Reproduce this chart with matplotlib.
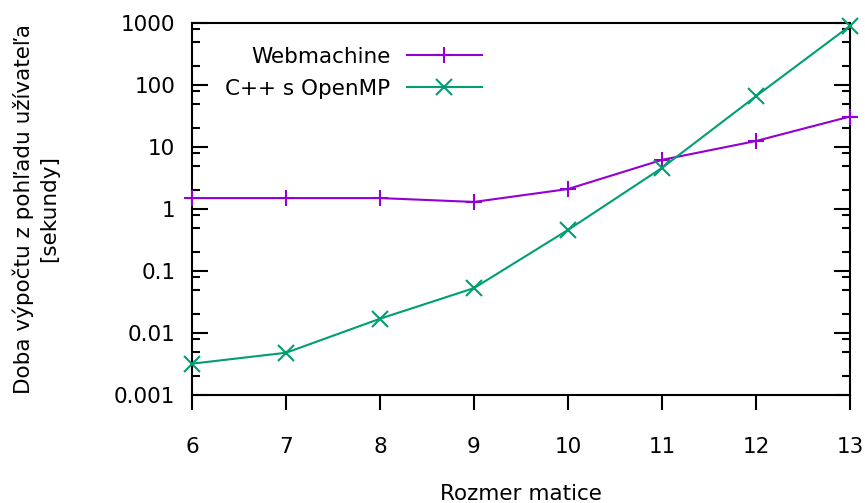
import matplotlib
matplotlib.use("Agg")
import matplotlib.pyplot as plt
from matplotlib.ticker import LogLocator, NullFormatter

sizes = [6, 7, 8, 9, 10, 11, 12, 13]
webmachine = [1.5, 1.5, 1.5, 1.3, 2.1, 6.2, 12.5, 31]
cpp_openmp = [0.0032, 0.0048, 0.017, 0.053, 0.46, 4.6, 66, 900]
ytick_vals = [0.001, 0.01, 0.1, 1, 10, 100, 1000]
ytick_labels = ["0.001", "0.01", "0.1", "1", "10", "100", "1000"]

FS = 15.5
plt.rcParams['font.family'] = ['DejaVu Sans']
fig = plt.figure(figsize=(8.65, 5.03), dpi=100)
ax = fig.add_axes([192/865, 1-395/503, (850-192)/865, (395-23)/503])

ax.plot(sizes, webmachine, color='#9400d3', lw=1.5, marker='+', ms=12, mew=1.5,
        clip_on=False, label='Webmachine', zorder=3)
ax.plot(sizes, cpp_openmp, color='#009e73', lw=1.5, marker='x', ms=12, mew=1.5,
        clip_on=False, label='C++ s OpenMP', zorder=3)

ax.set_yscale('log')
ax.set_ylim(0.001, 1000)
ax.set_xlim(6, 13)
ax.set_yticks(ytick_vals)
ax.set_yticklabels(ytick_labels)
ax.yaxis.set_minor_locator(LogLocator(base=10, subs=(2, 5, 8), numticks=20))
ax.yaxis.set_minor_formatter(NullFormatter())
ax.set_xticks(sizes)
ax.set_xticklabels([str(s) for s in sizes])

for sp in ax.spines.values():
    sp.set_linewidth(1.5)

ax.tick_params(axis='y', which='major', direction='in', length=11.5, width=1.5,
               left=True, right=True, labelsize=FS, pad=12)
ax.tick_params(axis='y', which='minor', direction='in', length=5.8, width=1.5,
               left=True, right=True)
ax.tick_params(axis='x', which='major', direction='out', length=11, width=1.5,
               top=False, labelsize=FS, pad=19)

fig.text(36/865, 1-209/503, "Doba výpočtu z pohľadu užívateľa\n[sekundy]",
         rotation=90, ha='center', va='center', multialignment='center',
         fontsize=FS, linespacing=1.35)
fig.text(521/865, 1-494/503, "Rozmer matice", ha='center', va='center', fontsize=FS)

leg = ax.legend(loc='upper right', bbox_to_anchor=(482/865, 1-47/503),
                bbox_transform=fig.transFigure, frameon=False, markerfirst=False,
                handlelength=3.5, fontsize=FS, labelspacing=0.55, handletextpad=0.75,
                borderaxespad=0, borderpad=0)
for t in leg.get_texts():
    t.set_ha('right')

fig.savefig('out.png', dpi=100)
